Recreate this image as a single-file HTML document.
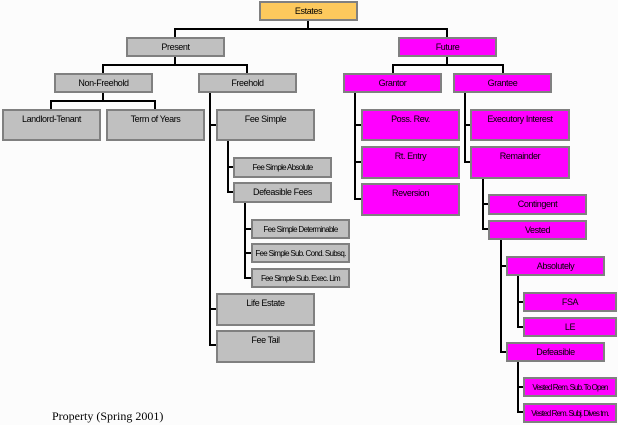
<!DOCTYPE html>
<html><head><meta charset="utf-8"><style>
body{margin:0;width:618px;height:425px;background:#fcfcfc;position:relative;overflow:hidden;font-family:"Liberation Sans",sans-serif}
.b{position:absolute;box-sizing:border-box;border:2px solid #808080;background:#c0c0c0;text-align:center;font-size:9px;line-height:10px;padding-top:3px;color:#000;letter-spacing:-0.4px;white-space:nowrap;overflow:hidden}
.s{font-size:8px;letter-spacing:-0.7px;padding-top:4px}
.m{background:#ff00ff}
.y{background:#fdc95d}
.h,.v{position:absolute;background:#000}
.h{height:2px}.v{width:2px}
.f{position:absolute;left:52px;top:409px;font-family:"Liberation Serif",serif;font-size:12px}
</style></head><body>
<div class="v" style="left:307px;top:20px;height:10px"></div>
<div class="h" style="left:174px;top:28px;width:274px"></div>
<div class="v" style="left:174px;top:28px;height:9px"></div>
<div class="v" style="left:446px;top:28px;height:9px"></div>
<div class="v" style="left:174px;top:56px;height:10px"></div>
<div class="h" style="left:102px;top:64px;width:146px"></div>
<div class="v" style="left:102px;top:64px;height:9px"></div>
<div class="v" style="left:246px;top:64px;height:9px"></div>
<div class="v" style="left:102px;top:92px;height:10px"></div>
<div class="h" style="left:50px;top:100px;width:106px"></div>
<div class="v" style="left:50px;top:100px;height:9px"></div>
<div class="v" style="left:154px;top:100px;height:9px"></div>
<div class="v" style="left:209px;top:92px;height:254px"></div>
<div class="h" style="left:209px;top:124px;width:7px"></div>
<div class="h" style="left:209px;top:308px;width:7px"></div>
<div class="h" style="left:209px;top:344px;width:7px"></div>
<div class="v" style="left:227px;top:140px;height:53px"></div>
<div class="h" style="left:227px;top:166px;width:6px"></div>
<div class="h" style="left:227px;top:191px;width:6px"></div>
<div class="v" style="left:244px;top:202px;height:76px"></div>
<div class="h" style="left:244px;top:228px;width:7px"></div>
<div class="h" style="left:244px;top:252px;width:7px"></div>
<div class="h" style="left:244px;top:277px;width:7px"></div>
<div class="v" style="left:446px;top:56px;height:10px"></div>
<div class="h" style="left:392px;top:64px;width:112px"></div>
<div class="v" style="left:392px;top:64px;height:9px"></div>
<div class="v" style="left:502px;top:64px;height:9px"></div>
<div class="v" style="left:354px;top:92px;height:108px"></div>
<div class="h" style="left:354px;top:124px;width:7px"></div>
<div class="h" style="left:354px;top:161px;width:7px"></div>
<div class="h" style="left:354px;top:198px;width:7px"></div>
<div class="v" style="left:464px;top:92px;height:71px"></div>
<div class="h" style="left:464px;top:124px;width:6px"></div>
<div class="h" style="left:464px;top:161px;width:6px"></div>
<div class="v" style="left:482px;top:178px;height:52px"></div>
<div class="h" style="left:482px;top:203px;width:6px"></div>
<div class="h" style="left:482px;top:228px;width:6px"></div>
<div class="v" style="left:500px;top:239px;height:114px"></div>
<div class="h" style="left:500px;top:265px;width:6px"></div>
<div class="h" style="left:500px;top:351px;width:6px"></div>
<div class="v" style="left:517px;top:275px;height:52px"></div>
<div class="h" style="left:517px;top:301px;width:6px"></div>
<div class="h" style="left:517px;top:326px;width:6px"></div>
<div class="v" style="left:517px;top:361px;height:52px"></div>
<div class="h" style="left:517px;top:386px;width:6px"></div>
<div class="h" style="left:517px;top:411px;width:6px"></div>
<div class="b y" style="left:259px;top:1px;width:99px;height:20px">Estates</div>
<div class="b" style="left:126px;top:37px;width:99px;height:20px">Present</div>
<div class="b m" style="left:398px;top:37px;width:99px;height:20px">Future</div>
<div class="b" style="left:54px;top:73px;width:99px;height:20px">Non-Freehold</div>
<div class="b" style="left:198px;top:73px;width:99px;height:20px">Freehold</div>
<div class="b" style="left:2px;top:109px;width:99px;height:32px">Landlord-Tenant</div>
<div class="b" style="left:106px;top:109px;width:99px;height:32px">Term of Years</div>
<div class="b" style="left:216px;top:109px;width:99px;height:32px">Fee Simple</div>
<div class="b s" style="left:233px;top:157px;width:99px;height:21px">Fee Simple Absolute</div>
<div class="b" style="left:233px;top:182px;width:99px;height:21px">Defeasible Fees</div>
<div class="b s" style="left:251px;top:219px;width:99px;height:20px">Fee Simple Determinable</div>
<div class="b s" style="left:251px;top:243px;width:99px;height:20px">Fee Simple Sub. Cond. Subsq.</div>
<div class="b s" style="left:251px;top:268px;width:99px;height:20px">Fee Simple Sub. Exec. Lim</div>
<div class="b" style="left:216px;top:293px;width:99px;height:33px">Life Estate</div>
<div class="b" style="left:216px;top:330px;width:99px;height:33px">Fee Tail</div>
<div class="b m" style="left:343px;top:73px;width:99px;height:20px">Grantor</div>
<div class="b m" style="left:453px;top:73px;width:99px;height:20px">Grantee</div>
<div class="b m" style="left:361px;top:109px;width:99px;height:32px">Poss. Rev.</div>
<div class="b m" style="left:361px;top:146px;width:99px;height:33px">Rt. Entry</div>
<div class="b m" style="left:361px;top:183px;width:99px;height:33px">Reversion</div>
<div class="b m" style="left:470px;top:109px;width:100px;height:32px">Executory Interest</div>
<div class="b m" style="left:470px;top:146px;width:100px;height:33px">Remainder</div>
<div class="b m" style="left:488px;top:194px;width:99px;height:21px">Contingent</div>
<div class="b m" style="left:488px;top:220px;width:99px;height:20px">Vested</div>
<div class="b m" style="left:506px;top:256px;width:99px;height:20px">Absolutely</div>
<div class="b m" style="left:523px;top:292px;width:94px;height:20px">FSA</div>
<div class="b m" style="left:523px;top:317px;width:94px;height:20px">LE</div>
<div class="b m" style="left:506px;top:342px;width:99px;height:20px">Defeasible</div>
<div class="b m s" style="left:523px;top:377px;width:94px;height:20px;letter-spacing:-0.9px">Vested Rem. Sub. To Open</div>
<div class="b m s" style="left:523px;top:403px;width:94px;height:20px;letter-spacing:-0.9px">Vested Rem. Subj. Dives tm.</div>
<div class="f">Property (Spring 2001)</div>
</body></html>
